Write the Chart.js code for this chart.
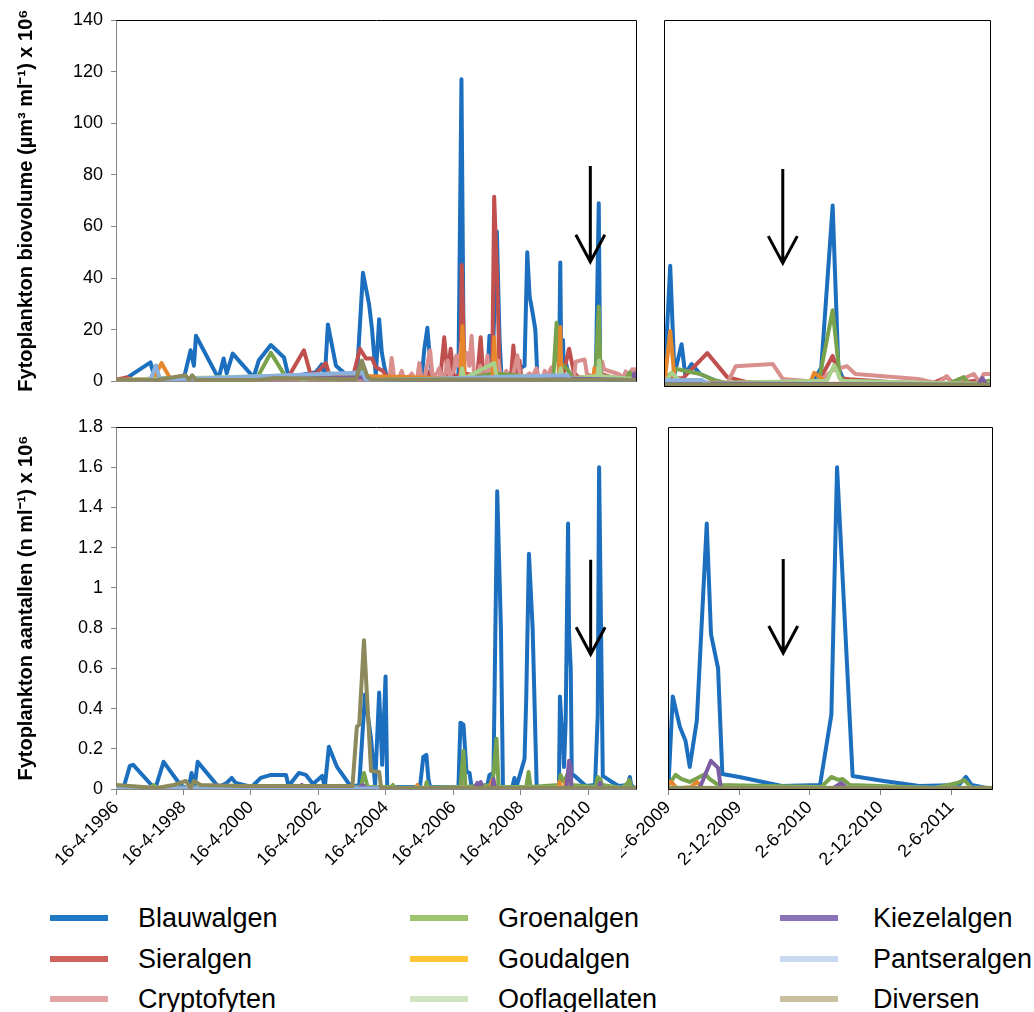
<!DOCTYPE html>
<html>
<head>
<meta charset="utf-8">
<script src="https://cdn.jsdelivr.net/npm/chart.js@4.4.1/dist/chart.umd.min.js"></script>
<style>
  html, body { margin: 0; padding: 0; background: #fff; }
  body { position: relative; width: 1034px; height: 1012px; overflow: hidden;
         font-family: "Liberation Sans", Arial, sans-serif; }
  canvas { position: absolute; }
  .item { position: absolute; height: 0; }
  .swatch { position: absolute; width: 58px; height: 6px; top: -3px; left: 0; }
  .name { position: absolute; top: -16px; font-size: 27px; line-height: 32px; color: #000; white-space: nowrap; }
</style>
</head>
<body>
<canvas id="bvFull" width="648" height="400" style="left:0;top:0"></canvas>
<canvas id="bvZoom" width="413" height="400" style="left:621px;top:0"></canvas>
<canvas id="nFull" width="648" height="490" style="left:0;top:400px"></canvas>
<canvas id="nZoom" width="413" height="490" style="left:621px;top:400px"></canvas>
<div id="legend"></div>
<script>
const seriesNames = ['Blauwalgen', 'Sieralgen', 'Cryptofyten', 'Groenalgen', 'Goudalgen',
  'Ooflagellaten', 'Kiezelalgen', 'Pantseralgen', 'Diversen'];
const lineColors = ['#1c6fbe', '#c0504d', '#d98f8d', '#78a24b', '#e6872c',
  '#a9d18e', '#7d5ea2', '#8db1de', '#8c8a5c'];
const legendColors = ['#2079c4', '#d0625e', '#e3a4a3', '#9dc56f', '#ffc534',
  '#d0e4c2', '#8b73b8', '#c7daf1', '#c8c09e'];

const fullTickLabels = ['16-4-1996', '16-4-1998', '16-4-2000', '16-4-2002',
  '16-4-2004', '16-4-2006', '16-4-2008', '16-4-2010'];
const zoomTickLabels = ['2-6-2009', '2-12-2009', '2-6-2010', '2-12-2010', '2-6-2011'];
const axisEndDate = '15-9-2011';

// biovolume (µm3/ml x 10^6), points are [decimal year, value]
const bvBlauwalgen = [[1996.29,0.4],[1996.58,1],[1997.31,7.3],[1997.40,3],[1997.47,6],[1997.55,1],
  [1998.30,1],[1998.50,12],[1998.60,6],[1998.66,17.6],[1999.33,1],[1999.48,8.8],[1999.57,3],
  [1999.75,10.7],[2000.37,1.5],[2000.52,8],[2000.88,14],[2001.27,9.2],[2001.41,1.5],[2002.21,3.5],
  [2002.39,6.5],[2002.48,1.5],[2002.57,22],[2002.81,6],[2003.20,1.5],[2003.43,1.5],[2003.61,42],
  [2003.79,30],[2003.88,20],[2003.99,2.3],[2004.09,24],[2004.17,11],[2004.24,6],[2004.33,0.5],
  [2005.35,1],[2005.43,12.6],[2005.52,20.7],[2005.60,8],[2005.68,1],[2006.44,1],[2006.53,117],
  [2006.60,2],[2007.30,2],[2007.36,17.6],[2007.45,5],[2007.58,58],[2007.66,16],[2007.72,1],
  [2008.40,6],[2008.48,50],[2008.55,33],[2008.64,26.5],[2008.72,20],[2008.78,2],[2009.30,1],
  [2009.42,2],[2009.46,46],[2009.49,4.6],[2009.54,16],[2009.565,4.6],[2009.61,8.4],[2009.67,4.6],
  [2009.78,2],[2009.90,0.5],[2010.45,1],[2010.52,7],[2010.60,69],[2010.64,7],[2010.68,2],
  [2010.80,0.5],[2011.70,0.5]];
const bvSieralgen = [[1996.29,0.5],[1996.60,1.5],[1996.80,0.5],[2000.50,1],[2001.35,1],[2001.46,3],
  [2001.86,12],[2002.05,3],[2002.22,3],[2002.51,7],[2002.65,1],[2003.30,1],[2003.52,12.6],
  [2003.70,8.8],[2003.88,8.8],[2003.99,5.4],[2004.20,4],[2004.35,1],[2004.70,1],[2004.76,3],
  [2004.82,1],[2005.45,1],[2005.52,4],[2005.58,1],[2005.90,1],[2006.02,17],
  [2006.12,2],[2006.21,12.6],[2006.30,2],[2006.50,2],[2006.54,45],[2006.62,3],[2007.00,2],
  [2007.10,17],[2007.18,2],[2007.44,2],[2007.50,71.5],[2007.60,35],[2007.66,3],[2008.00,2],
  [2008.07,13.8],[2008.14,2],[2008.20,2],[2008.25,8],[2008.30,2],[2009.00,1],[2009.42,2],
  [2009.46,3],[2009.55,3],[2009.72,12.6],
  [2009.86,3.4],[2010.00,1.5],[2010.50,1.5],[2010.60,11.5],[2010.65,3],[2010.72,2.6],
  [2011.00,1.5],[2011.30,1],[2011.40,3.4],[2011.45,1],[2011.60,2],[2011.70,1]];
const bvCryptofyten = [[1996.29,0.3],[2004.30,0.5],[2004.40,1],[2004.46,9],[2004.54,1],[2004.70,2],
  [2004.76,4],[2004.82,1],[2005.00,2],[2005.06,3],[2005.12,1],[2005.22,1.5],[2005.28,7],
  [2005.34,1.5],[2005.45,2],[2005.60,12],[2005.67,2],[2005.80,3],[2005.87,5],[2005.93,2],
  [2006.05,3],[2006.12,8],[2006.18,2],[2006.30,4],[2006.38,10],[2006.45,6],[2006.53,15],
  [2006.60,8],[2006.68,11],[2006.76,6],[2006.83,17.6],[2006.90,3],[2007.00,2],[2007.08,6],
  [2007.14,2],[2007.25,3],[2007.30,10],[2007.37,3],[2007.55,4],[2007.62,8],[2007.70,2],
  [2007.80,2],[2007.86,4],[2007.92,1.5],[2008.05,2],[2008.19,10],[2008.26,2],[2008.35,1],
  [2008.55,3],[2008.61,1],[2008.75,5],[2008.82,1.5],[2008.95,2],[2009.00,4],[2009.06,1.5],
  [2009.20,5.4],[2009.28,1.5],[2009.42,1],[2009.86,1],
  [2009.92,7.6],[2010.18,8.4],[2010.25,2.7],[2010.50,1.5],[2010.60,6],[2010.70,7.6],
  [2010.76,4.6],[2011.20,2.7],[2011.34,1],[2011.40,3.8],[2011.44,1],[2011.59,4.6],
  [2011.63,1.5],[2011.66,4.6],[2011.70,4.6]];
const bvGroenalgen = [[1996.29,0.3],[1998.00,0.5],[2000.30,0.5],[2000.46,1],[2000.88,11],[2001.35,1],
  [2002.50,2],[2002.60,3],[2003.50,2],[2003.60,5],[2003.75,1],[2006.50,1],[2006.55,4],[2006.60,1],
  [2007.50,3],[2009.25,1],[2009.35,22.7],[2009.42,3],[2009.46,4.5],[2009.505,6.5],[2009.67,4.6],
  [2009.78,2],[2009.90,0.5],[2010.50,1],[2010.60,29],[2010.65,3.5],[2010.70,1],[2011.40,0.5],
  [2011.52,3.4],[2011.56,0.5],[2011.70,2]];
const bvGoudalgen = [[1996.29,0.3],[1997.40,1],[1997.64,7],[1997.90,1],[2003.60,2],[2006.50,1],
  [2006.56,21.4],[2006.62,1],[2007.45,1],[2007.50,17],[2007.56,1],[2009.30,1],[2009.42,1],
  [2009.46,21],[2009.49,3],[2009.60,1.5],[2010.00,1],[2010.20,1],[2010.44,1],[2010.47,5],
  [2010.51,3.5],[2010.56,1],[2011.70,0.5]];
const bvOoflagellaten = [[1996.29,0.5],[2001.70,2.3],[2001.80,0.5],[2002.60,3],[2002.70,0.5],
  [2003.60,3],[2003.70,0.5],[2006.50,1],[2006.55,5],[2006.60,1],[2007.50,7],[2007.58,1],
  [2008.40,2],[2009.42,1],[2009.47,5],[2009.55,1],[2010.56,2],[2010.61,8],[2010.66,2],
  [2011.50,1],[2011.70,1]];
const bvKiezelalgen = [[1996.29,0.3],[2003.60,1.5],[2003.70,0.3],[2009.70,1],[2011.62,0.5],
  [2011.65,3],[2011.68,0.5],[2011.70,0.5]];
const bvPantseralgen = [[1996.29,0.3],[1997.30,0.5],[1997.47,6],[1997.60,0.5],[2003.60,3.4],
  [2003.70,0.3],[2009.68,2.3],[2009.75,0.3],[2011.70,0.3]];
const bvDiversen = [[1996.29,0.5],[1997.50,0.5],[1998.35,2.3],[1998.45,0.5],[1998.55,2.3],
  [1998.65,0.5],[2000.50,0.5],[2001.00,1.2],[2003.40,0.8],[2003.58,8],[2003.75,1.5],
  [2003.85,0.8],[2011.70,0.5]];

// cell counts (n/ml x 10^6), points are [decimal year, value]
const nBlauwalgen = [[1996.29,0],[1996.52,0.01],[1996.70,0.115],[1996.80,0.12],[1997.34,0.02],
  [1997.45,0],[1997.70,0.135],[1998.20,0.02],[1998.44,0],[1998.53,0.08],[1998.62,0.01],
  [1998.71,0.135],[1999.33,0.01],[1999.57,0.03],[1999.72,0.055],[1999.84,0.03],[2000.31,0.01],
  [2000.58,0.055],[2000.88,0.07],[2001.33,0.07],[2001.41,0.01],[2001.50,0.035],[2001.71,0.08],
  [2001.92,0.07],[2002.13,0.025],[2002.40,0.065],[2002.48,0.01],[2002.60,0.21],[2002.84,0.11],
  [2003.26,0.01],[2003.50,0.02],[2003.67,0.47],[2003.85,0.25],[2003.97,0.02],[2004.09,0.48],
  [2004.18,0.12],[2004.28,0.56],[2004.33,0.01],[2005.30,0.01],[2005.40,0.16],[2005.49,0.17],
  [2005.55,0.05],[2005.60,0.01],[2006.44,0.01],[2006.50,0.33],[2006.59,0.32],[2006.68,0.085],
  [2006.77,0.08],[2006.83,0.01],[2007.30,0.02],[2007.36,0.07],[2007.48,0.08],[2007.59,1.48],
  [2007.70,0.8],[2007.76,0.01],[2008.04,0.01],[2008.10,0.055],[2008.16,0.01],[2008.40,0.15],
  [2008.45,0.45],[2008.53,1.17],[2008.64,0.8],[2008.76,0.01],[2009.30,0.01],[2009.42,0.02],
  [2009.45,0.46],[2009.50,0.31],[2009.54,0.24],[2009.57,0.11],[2009.62,0.34],[2009.69,1.32],
  [2009.72,0.77],[2009.77,0.6],[2009.80,0.075],[2009.92,0.06],[2010.22,0.015],[2010.49,0.02],
  [2010.57,0.37],[2010.61,1.6],[2010.72,0.065],[2010.94,0.04],[2011.19,0.015],[2011.47,0.02],
  [2011.52,0.06],[2011.56,0.02],[2011.70,0]];
const nSieralgen = [[1996.29,0.005],[2007.45,0.005],[2007.50,0.02],[2007.55,0.005],[2011.70,0.005]];
const nCryptofyten = [[1996.29,0.003],[2006.50,0.003],[2006.56,0.03],[2006.62,0.003],[2007.45,0.003],
  [2007.50,0.03],[2007.55,0.003],[2011.70,0.003]];
const nGroenalgen = [[1996.29,0.005],[1997.30,0.005],[1997.40,0.02],[1997.50,0.005],[2003.55,0.01],
  [2003.64,0.08],[2003.75,0.01],[2004.45,0.01],[2004.50,0.02],[2004.55,0.005],[2005.45,0.005],
  [2005.50,0.035],[2005.55,0.005],[2006.50,0.01],[2006.59,0.19],[2006.65,0.01],[2007.45,0.02],
  [2007.57,0.25],[2007.63,0.01],[2008.45,0.01],[2008.52,0.085],[2008.58,0.01],[2009.42,0.02],
  [2009.47,0.07],[2009.51,0.05],[2009.57,0.035],[2009.68,0.075],[2009.71,0.05],[2009.77,0.02],
  [2010.50,0.01],[2010.57,0.06],[2010.62,0.045],[2010.65,0.05],[2010.70,0.02],[2011.30,0.005],
  [2011.46,0.03],[2011.51,0.045],[2011.56,0.005],[2011.70,0.005]];
const nGoudalgen = [[1996.29,0.003],[2005.18,0.003],[2005.22,0.02],[2005.26,0.003],[2007.38,0.003],
  [2007.42,0.04],[2007.46,0.003],[2009.38,0.003],[2009.44,0.035],[2009.48,0.003],[2009.58,0.01],
  [2009.62,0.035],[2009.66,0.005],[2011.70,0.003]];
const nOoflagellaten = [[1996.29,0.006],[2011.70,0.006]];
const nKiezelalgen = [[1996.29,0.003],[2001.70,0.003],[2001.80,0.02],[2001.90,0.003],[2003.50,0.005],
  [2003.60,0.02],[2003.70,0.005],[2006.90,0.003],[2007.00,0.03],[2007.05,0.003],[2007.10,0.035],
  [2007.15,0.003],[2007.45,0.005],[2007.48,0.05],[2007.52,0.005],[2009.64,0.005],[2009.72,0.14],
  [2009.77,0.105],[2009.79,0.003],[2010.58,0.003],[2010.64,0.03],[2010.68,0.003],[2011.70,0.003]];
const nPantseralgen = [[1996.29,0.003],[2011.70,0.003]];
const nDiversen = [[1996.29,0.02],[1996.70,0.015],[1997.50,0.005],[1998.00,0.02],[1998.36,0.04],
  [1998.50,0.005],[1998.60,0.04],[1998.80,0.02],[2000.00,0.015],[2002.50,0.015],[2003.30,0.015],
  [2003.43,0.31],[2003.50,0.32],[2003.64,0.74],[2003.85,0.09],[2004.09,0.085],[2004.15,0.005],
  [2011.70,0.005]];

const biovolume = [bvBlauwalgen, bvSieralgen, bvCryptofyten, bvGroenalgen, bvGoudalgen,
  bvOoflagellaten, bvKiezelalgen, bvPantseralgen, bvDiversen];
const counts = [nBlauwalgen, nSieralgen, nCryptofyten, nGroenalgen, nGoudalgen,
  nOoflagellaten, nKiezelalgen, nPantseralgen, nDiversen];

// "d-m-yyyy" -> decimal year
function decYear(s) {
  const [d, m, y] = s.split('-').map(Number);
  const start = Date.UTC(y, 0, 1), end = Date.UTC(y + 1, 0, 1);
  return y + (Date.UTC(y, m - 1, d) - start) / (end - start);
}

Chart.defaults.font.family = '"Liberation Sans", Arial, sans-serif';
Chart.defaults.color = '#000';
const axisGrey = '#868686';

function framePlugin(allSides) {
  return {
    id: 'frame',
    afterDatasetsDraw(chart) {
      const { ctx, chartArea: a } = chart;
      const l = Math.round(a.left) + 0.5, r = Math.round(a.right) + 0.5;
      const t = Math.round(a.top) + 0.5, b = Math.round(a.bottom) + 0.5;
      ctx.save();
      ctx.strokeStyle = '#000';
      ctx.lineWidth = 1;
      ctx.beginPath();
      if (allSides) {
        ctx.rect(l, t, r - l, b - t);
      } else {
        ctx.moveTo(l, t); ctx.lineTo(r, t); ctx.lineTo(r, b);
      }
      ctx.stroke();
      ctx.restore();
    }
  };
}

// vertical arrow pointing down at a date, ends given in y units
function arrowPlugin(x, yFrom, yTo) {
  return {
    id: 'arrow',
    afterDatasetsDraw(chart) {
      const { ctx, scales } = chart;
      const px = scales.x.getPixelForValue(x);
      const top = scales.y.getPixelForValue(yFrom);
      const tip = scales.y.getPixelForValue(yTo);
      ctx.save();
      ctx.strokeStyle = '#000';
      ctx.lineWidth = 3;
      ctx.beginPath();
      ctx.moveTo(px, top); ctx.lineTo(px, tip);
      ctx.moveTo(px - 14.5, tip - 27); ctx.lineTo(px, tip); ctx.lineTo(px + 14.5, tip - 27);
      ctx.stroke();
      ctx.restore();
    }
  };
}

function makeChart(id, series, opt) {
  const tickValues = opt.tickLabels.map(decYear);
  return new Chart(document.getElementById(id), {
    type: 'line',
    data: {
      datasets: series.map((pts, i) => ({
        label: seriesNames[i],
        data: pts.map(([x, y]) => ({ x, y })),
        borderColor: lineColors[i],
        borderWidth: 4,
        borderJoinStyle: 'round',
        borderCapStyle: 'round',
        pointRadius: 0,
        tension: 0,
        order: series.length - i
      }))
    },
    options: {
      responsive: false,
      animation: false,
      events: [],
      layout: { padding: opt.padding },
      plugins: { legend: { display: false }, tooltip: { enabled: false } },
      scales: {
        x: {
          type: 'linear',
          min: opt.xMin,
          max: decYear(axisEndDate),
          afterBuildTicks: (axis) => { axis.ticks = tickValues.map((value) => ({ value })); },
          afterFit: (scale) => { scale.height = opt.xHeight; scale.paddingLeft = 0; scale.paddingRight = 0; },
          ticks: {
            display: opt.showDates,
            autoSkip: false,
            minRotation: 45,
            maxRotation: 45,
            padding: 2,
            font: { size: 18 },
            callback: (v, i) => opt.tickLabels[i]
          },
          grid: { drawOnChartArea: false, drawTicks: opt.showDates, tickLength: 6, color: axisGrey },
          border: { color: axisGrey }
        },
        y: opt.yTitle ? {
          min: 0,
          max: opt.yMax,
          afterFit: (scale) => { scale.width = 116; },
          ticks: { stepSize: opt.yStep, padding: 8, font: { size: 18 },
                   callback: (v) => String(+v.toFixed(1)) },
          grid: { drawOnChartArea: false, tickLength: 5, color: axisGrey },
          border: { color: axisGrey },
          title: { display: true, text: opt.yTitle, font: { size: 20, weight: 'bold' },
                   padding: { top: 14, bottom: 0 } }
        } : { display: false, min: 0, max: opt.yMax }
      }
    },
    plugins: [framePlugin(!opt.yTitle), arrowPlugin(opt.arrow[0], opt.arrow[1], opt.arrow[2])]
  });
}

const fullStart = decYear(fullTickLabels[0]);
const zoomStart = decYear(zoomTickLabels[0]);

makeChart('bvFull', biovolume, {
  tickLabels: fullTickLabels, xMin: fullStart, showDates: false, xHeight: 14,
  padding: { top: 20, right: 12, bottom: 0, left: 0 },
  yMax: 140, yStep: 20, yTitle: 'Fytoplankton biovolume (µm³ ml⁻¹) x 10⁶',
  arrow: [2010.35, 83.4, 46.3]
});
makeChart('bvZoom', biovolume, {
  tickLabels: zoomTickLabels, xMin: zoomStart, showDates: false, xHeight: 14,
  padding: { top: 20, right: 44, bottom: 0, left: 43 },
  yMax: 140, arrow: [2010.25, 83, 47]
});
makeChart('nFull', counts, {
  tickLabels: fullTickLabels, xMin: fullStart, showDates: true, xHeight: 101,
  padding: { top: 27, right: 12, bottom: 0, left: 0 },
  yMax: 1.8, yStep: 0.2, yTitle: 'Fytoplankton aantallen (n ml⁻¹) x 10⁶',
  arrow: [2010.36, 1.14, 0.67]
});
makeChart('nZoom', counts, {
  tickLabels: zoomTickLabels, xMin: zoomStart, showDates: true, xHeight: 101,
  padding: { top: 27, right: 42, bottom: 0, left: 47 },
  yMax: 1.8, arrow: [2010.23, 1.144, 0.676]
});

// legend: three columns of three
const legend = document.getElementById('legend');
const colLeft = [50, 410, 780], textGap = [88, 88, 93], rowY = [918, 959, 999];
seriesNames.forEach((name, i) => {
  const col = Math.floor(i / 3), row = i % 3;
  const item = document.createElement('div');
  item.className = 'item';
  item.style.left = colLeft[col] + 'px';
  item.style.top = rowY[row] + 'px';
  item.innerHTML = '<span class="swatch" style="background:' + legendColors[i] + '"></span>' +
    '<span class="name" style="left:' + textGap[col] + 'px">' + name + '</span>';
  legend.appendChild(item);
});
</script>
</body>
</html>
